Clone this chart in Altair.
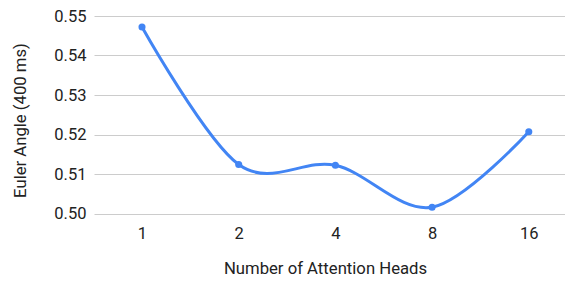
import altair as alt
import pandas as pd

heads = ["1", "2", "4", "8", "16"]
euler = [0.5472, 0.5124, 0.5122, 0.5016, 0.5207]
y_ticks = [0.50, 0.51, 0.52, 0.53, 0.54, 0.55]

df = pd.DataFrame({"heads": heads, "euler": euler})

LABEL_FS = 16.5
TITLE_FS = 16.7
TXT = "#222222"

x_enc = alt.X(
    "heads:N",
    sort=heads,
    scale=alt.Scale(type="point", padding=0.4355, align=0.57),
    axis=alt.Axis(
        title="Number of Attention Heads",
        labelAngle=0,
        ticks=False,
        domain=False,
        grid=False,
        labelPadding=12,
        labelFontSize=LABEL_FS,
        labelColor=TXT,
        labelFont="Roboto",
        titleFont="Roboto",
        titleFontSize=TITLE_FS,
        titleFontWeight="normal",
        titleColor=TXT,
        titleX=231,
        titleY=55,
        titleAlign="center",
        titleBaseline="middle",
    ),
)
y_enc = alt.Y(
    "euler:Q",
    scale=alt.Scale(domain=[0.50, 0.55], nice=False, zero=False),
    axis=alt.Axis(
        title="Euler Angle (400 ms)",
        values=y_ticks,
        format=".2f",
        ticks=False,
        domain=False,
        grid=True,
        gridColor="#cccccc",
        gridWidth=1,
        labelPadding=8,
        labelFontSize=LABEL_FS,
        labelColor=TXT,
        labelFont="Roboto",
        labelBaseline="middle",
        titleFont="Roboto",
        titleFontSize=TITLE_FS,
        titleFontWeight="normal",
        titleColor=TXT,
        titleX=-73.5,
        titleY=104,
        titleAlign="center",
        titleBaseline="middle",
        titleAngle=270,
    ),
)

base = alt.Chart(df).encode(x=x_enc, y=y_enc)
line = base.mark_line(color="#4285F4", strokeWidth=3, interpolate="cardinal")
pts = base.mark_circle(color="#4285F4", size=50, opacity=1)

chart = (line + pts).properties(
    width=471,
    height=197.5,
    padding={"left": 4, "top": 0, "right": 0, "bottom": 0},
).configure_view(stroke=None)

chart.save("out.html", embed_options={"renderer": "svg", "actions": False})
